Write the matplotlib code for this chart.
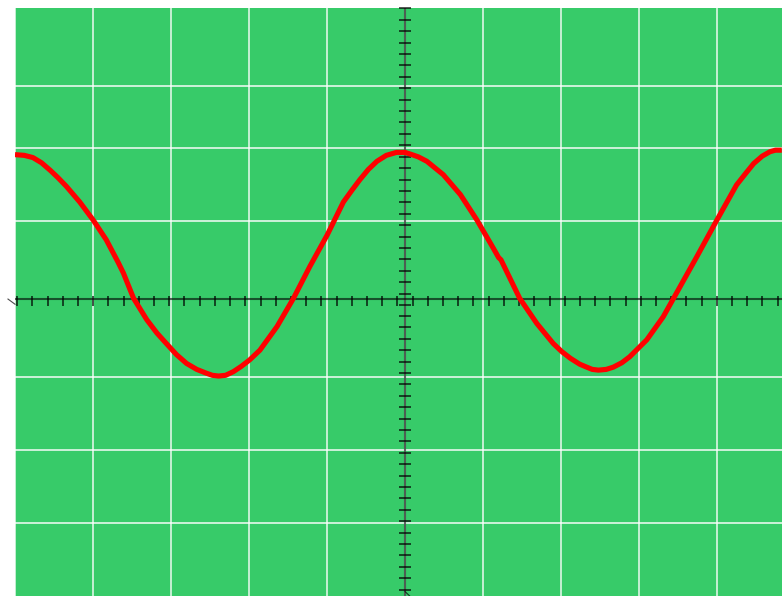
import numpy as np
import matplotlib
matplotlib.use("Agg")
import matplotlib.pyplot as plt

# curve points (x in grid units, y in grid units)
curve_x = [-5.00, -4.88, -4.77, -4.66, -4.55, -4.45, -4.34, -4.17, -4.00, -3.83,
           -3.72, -3.68, -3.61, -3.48, -3.31, -3.18, -3.06, -2.93, -2.80, -2.67,
           -2.55, -2.47, -2.39, -2.30, -2.20, -2.10, -1.99, -1.86, -1.64, -1.43,
           -1.22, -1.00, -0.79, -0.68, -0.58, -0.47, -0.36, -0.24, -0.11, 0.00,
           0.06, 0.17, 0.28, 0.49, 0.71, 0.92, 1.13, 1.20, 1.23, 1.47,
           1.69, 1.90, 2.01, 2.12, 2.24, 2.33, 2.40, 2.48, 2.58, 2.67,
           2.78, 2.88, 3.10, 3.31, 3.48, 3.74, 4.00, 4.25, 4.37, 4.47,
           4.58, 4.68, 4.75, 4.83]
curve_y = [1.95, 1.94, 1.91, 1.84, 1.74, 1.64, 1.52, 1.31, 1.07, 0.80,
           0.58, 0.50, 0.35, 0.01, -0.28, -0.46, -0.60, -0.75, -0.87, -0.95,
           -1.00, -1.03, -1.04, -1.03, -0.98, -0.91, -0.82, -0.69, -0.37, 0.01,
           0.44, 0.86, 1.31, 1.47, 1.61, 1.75, 1.86, 1.94, 1.98, 1.98,
           1.96, 1.92, 1.86, 1.68, 1.41, 1.07, 0.69, 0.56, 0.53, 0.01,
           -0.33, -0.60, -0.71, -0.80, -0.88, -0.92, -0.95, -0.96, -0.95, -0.92,
           -0.86, -0.78, -0.55, -0.24, 0.08, 0.57, 1.07, 1.54, 1.70, 1.83,
           1.93, 1.99, 2.01, 2.01]

grid_x = [-5, -4, -3, -2, -1, 0, 1, 2, 3, 4]
grid_y = [2.88, 2.04, 1.05, -1.05, -2.04, -3.03]

green = "#37cb69"

fig = plt.figure(figsize=(7.82, 5.96), dpi=100)
ax = fig.add_axes([15 / 782, 0, 767 / 782, 588 / 596])
ax.set_facecolor(green)
ax.set_xlim(-5, 4.833)
ax.set_ylim(-4.01, 3.93)

for gx in grid_x:
    ax.axvline(gx, color="white", lw=1.1, alpha=0.9, zorder=1)
for gy in grid_y:
    ax.axhline(gy, color="white", lw=1.1, alpha=0.95, zorder=1)

# axes through the origin
ax.axhline(0, color="black", lw=1.5, alpha=0.6, zorder=2)
ax.axvline(0, color="black", lw=1.5, alpha=0.6, zorder=2)

# small tick marks on the axes
tx = np.concatenate([-0.0975 - 0.195 * np.arange(26), 0.0975 + 0.195 * np.arange(25)])
ax.vlines(tx, -0.10, 0.04, color="black", lw=1.1, alpha=0.85, zorder=3)
ty = np.concatenate([0.074 + 0.154 * np.arange(26), -0.074 - 0.154 * np.arange(26)])
ax.hlines(ty, -0.077, 0.077, color="black", lw=1.1, alpha=0.85, zorder=3, clip_on=False)

# arrow stubs at the ends of the axes
ax.plot([-5.09, -5.0], [0.0, -0.07], color="black", lw=0.8, alpha=0.7, clip_on=False)
ax.plot([0.0, 0.06], [-3.95, -4.01], color="black", lw=0.8, alpha=0.7, clip_on=False)

ax.plot(curve_x, curve_y, color="#ff0000", lw=3.7, solid_joinstyle="round",
        solid_capstyle="butt", zorder=4)

ax.set_xticks([])
ax.set_yticks([])
for s in ax.spines.values():
    s.set_visible(False)

fig.savefig("out.png", dpi=100, facecolor="white")
